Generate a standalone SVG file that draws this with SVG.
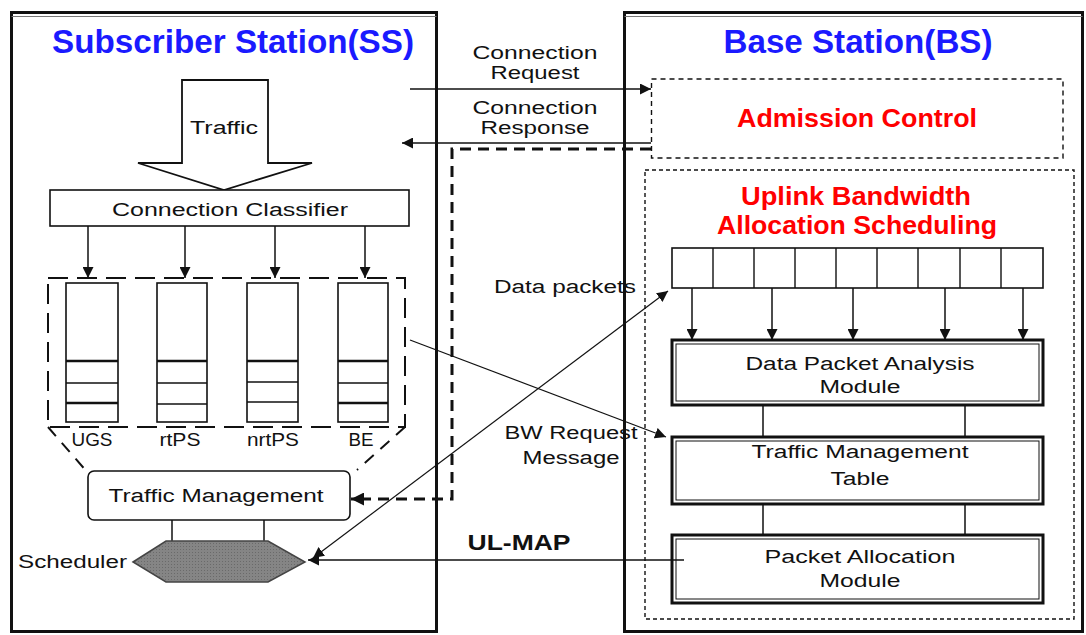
<svg xmlns="http://www.w3.org/2000/svg" width="1086" height="635" viewBox="0 0 1086 635">
<style>
text{font-family:"Liberation Sans",Arial,sans-serif;fill:#111;}
.t{font-size:18px;}
.title{font-size:33px;font-weight:bold;fill:#1a1aff;}
.red{font-size:26px;font-weight:bold;fill:#ff0000;}
.frame{fill:none;stroke:#111;stroke-width:3;}
.thin{fill:none;stroke:#111;stroke-width:1.5;}
.box{fill:#fff;stroke:#111;stroke-width:1.6;}
.mod{fill:#fff;stroke:#111;stroke-width:3;}
.modin{fill:none;stroke:#111;stroke-width:1;}
.ln{fill:none;stroke:#111;stroke-width:1.5;}
.qthick{stroke:#111;stroke-width:2.6;}
.qthin{stroke:#111;stroke-width:1.4;}
</style>
<defs>
<marker id="ah" viewBox="0 0 10 10" refX="10" refY="5" markerWidth="11" markerHeight="11" markerUnits="userSpaceOnUse" orient="auto-start-reverse"><path d="M0,0 L10,5 L0,10 z" fill="#111"/></marker>
<marker id="ahb" viewBox="0 0 10 10" refX="10" refY="5" markerWidth="14" markerHeight="13" markerUnits="userSpaceOnUse" orient="auto"><path d="M0,0 L10,5 L0,10 z" fill="#111"/></marker>
<pattern id="stip" width="3" height="3" patternUnits="userSpaceOnUse"><rect width="3" height="3" fill="#858585"/><rect width="1" height="1" fill="#6a6a6a"/></pattern>
</defs>

<g id="ss-frame">
<rect class="frame" x="11.5" y="12.5" width="425" height="619"/>
<line x1="11.5" y1="16.5" x2="436.5" y2="16.5" stroke="#777" stroke-width="1"/>
<text class="title" x="233" y="53" text-anchor="middle" textLength="362" lengthAdjust="spacingAndGlyphs">Subscriber Station(SS)</text>
</g>

<g id="bs-frame">
<rect class="frame" x="624.5" y="12.5" width="458" height="619"/>
<line x1="624.5" y1="16.5" x2="1082.5" y2="16.5" stroke="#777" stroke-width="1"/>
<text class="title" x="858" y="53" text-anchor="middle" textLength="269" lengthAdjust="spacingAndGlyphs">Base Station(BS)</text>
</g>

<g id="traffic">
<polygon points="182,80 268,80 268,163 312,163 224,190 138,163 182,163" fill="#fff" stroke="#111" stroke-width="1.8"/>
<text class="t" x="224" y="134" text-anchor="middle" textLength="68" lengthAdjust="spacingAndGlyphs">Traffic</text>
</g>

<g id="connection-classifier">
<rect class="box" x="50" y="190" width="359" height="36"/>
<text class="t" x="230" y="216" text-anchor="middle" textLength="236" lengthAdjust="spacingAndGlyphs">Connection Classifier</text>
</g>

<g id="queues">
<rect x="48" y="278" width="357" height="149" fill="none" stroke="#111" stroke-width="2" stroke-dasharray="20,9"/>
<path d="M48,427 L88,473 M405,427 L357,470" fill="none" stroke="#111" stroke-width="2" stroke-dasharray="12,9"/>
<g id="q-ugs">
<rect class="box" x="66" y="283" width="52" height="139"/>
<line class="qthick" x1="66" y1="361" x2="118" y2="361"/>
<line class="qthin" x1="66" y1="383" x2="118" y2="383"/>
<line class="qthick" x1="66" y1="403" x2="118" y2="403"/>
<text class="t" x="92" y="446" text-anchor="middle" textLength="41" lengthAdjust="spacingAndGlyphs">UGS</text>
</g>
<g id="q-rtps">
<rect class="box" x="157" y="283" width="50" height="139"/>
<line class="qthick" x1="157" y1="361" x2="207" y2="361"/>
<line class="qthin" x1="157" y1="383" x2="207" y2="383"/>
<line class="qthin" x1="157" y1="404" x2="207" y2="404"/>
<text class="t" x="180" y="446" text-anchor="middle" textLength="41" lengthAdjust="spacingAndGlyphs">rtPS</text>
</g>
<g id="q-nrtps">
<rect class="box" x="247" y="283" width="51" height="139"/>
<line class="qthick" x1="247" y1="361" x2="298" y2="361"/>
<line class="qthin" x1="247" y1="382" x2="298" y2="382"/>
<line class="qthin" x1="247" y1="402" x2="298" y2="402"/>
<text class="t" x="273" y="446" text-anchor="middle" textLength="52" lengthAdjust="spacingAndGlyphs">nrtPS</text>
</g>
<g id="q-be">
<rect class="box" x="338" y="283" width="50" height="139"/>
<line class="qthick" x1="338" y1="361" x2="388" y2="361"/>
<line class="qthin" x1="338" y1="383" x2="388" y2="383"/>
<line class="qthick" x1="338" y1="403" x2="388" y2="403"/>
<text class="t" x="361" y="446" text-anchor="middle" textLength="25" lengthAdjust="spacingAndGlyphs">BE</text>
</g>
</g>

<g id="traffic-management-ss">
<rect class="box" x="88" y="471" width="262" height="49" rx="6"/>
<text class="t" x="216" y="502" text-anchor="middle" textLength="215" lengthAdjust="spacingAndGlyphs">Traffic Management</text>
</g>

<g id="scheduler">
<line class="ln" x1="172" y1="520" x2="172" y2="541"/>
<line class="ln" x1="264" y1="520" x2="264" y2="541"/>
<polygon points="133,562 166,541 268,541 305,562 268,582 166,582" fill="url(#stip)" stroke="#444" stroke-width="1.5"/>
<text class="t" x="127" y="568" text-anchor="end" textLength="109" lengthAdjust="spacingAndGlyphs">Scheduler</text>
</g>

<g id="admission-control">
<rect x="651.5" y="79" width="411.5" height="79" fill="none" stroke="#111" stroke-width="1.4" stroke-dasharray="5,4"/>
<text class="red" x="857" y="127" text-anchor="middle" textLength="240" lengthAdjust="spacingAndGlyphs">Admission Control</text>
</g>

<g id="uplink-scheduling">
<rect x="645" y="170" width="429" height="449" fill="none" stroke="#111" stroke-width="1.4" stroke-dasharray="4,3"/>
<text class="red" x="856" y="205" text-anchor="middle" textLength="230" lengthAdjust="spacingAndGlyphs">Uplink Bandwidth</text>
<text class="red" x="857" y="234" text-anchor="middle" textLength="280" lengthAdjust="spacingAndGlyphs">Allocation Scheduling</text>
</g>

<g id="data-packet-queue">
<rect class="box" x="672" y="248" width="371" height="40"/>
<path d="M713,248V288M754,248V288M795,248V288M836,248V288M877,248V288M918,248V288M960,248V288M1001,248V288" stroke="#111" stroke-width="1.4"/>
</g>

<g id="data-packet-analysis">
<rect class="mod" x="672" y="340" width="371" height="65"/>
<rect class="modin" x="676" y="344" width="363" height="57"/>
<text class="t" x="860" y="370" text-anchor="middle" textLength="229" lengthAdjust="spacingAndGlyphs">Data Packet Analysis</text>
<text class="t" x="860" y="393" text-anchor="middle" textLength="81" lengthAdjust="spacingAndGlyphs">Module</text>
</g>

<g id="traffic-management-table">
<rect class="mod" x="672" y="437" width="371" height="67"/>
<rect class="modin" x="676" y="441" width="363" height="59"/>
<text class="t" x="860" y="458" text-anchor="middle" textLength="217" lengthAdjust="spacingAndGlyphs">Traffic Management</text>
<text class="t" x="860" y="485" text-anchor="middle" textLength="59" lengthAdjust="spacingAndGlyphs">Table</text>
</g>

<g id="packet-allocation">
<rect class="mod" x="672" y="535" width="371" height="68"/>
<rect class="modin" x="676" y="539" width="363" height="60"/>
<text class="t" x="860" y="563" text-anchor="middle" textLength="191" lengthAdjust="spacingAndGlyphs">Packet Allocation</text>
<text class="t" x="860" y="587" text-anchor="middle" textLength="81" lengthAdjust="spacingAndGlyphs">Module</text>
</g>

<g id="connectors">
<!-- classifier to queues -->
<line class="ln" x1="88" y1="226" x2="88" y2="278" marker-end="url(#ah)"/>
<line class="ln" x1="185" y1="226" x2="185" y2="278" marker-end="url(#ah)"/>
<line class="ln" x1="275" y1="226" x2="275" y2="278" marker-end="url(#ah)"/>
<line class="ln" x1="365" y1="226" x2="365" y2="278" marker-end="url(#ah)"/>
<!-- data packets to analysis -->
<line class="ln" x1="692" y1="288" x2="692" y2="340" marker-end="url(#ah)"/>
<line class="ln" x1="772" y1="288" x2="772" y2="340" marker-end="url(#ah)"/>
<line class="ln" x1="853" y1="288" x2="853" y2="340" marker-end="url(#ah)"/>
<line class="ln" x1="945" y1="288" x2="945" y2="340" marker-end="url(#ah)"/>
<line class="ln" x1="1023" y1="288" x2="1023" y2="340" marker-end="url(#ah)"/>
<!-- module links -->
<path class="ln" d="M763,405V437M965,405V437M763,504V535M965,504V535"/>
<!-- connection request / response -->
<line class="ln" x1="410" y1="89" x2="651" y2="89" marker-end="url(#ah)"/>
<text class="t" x="535" y="59" text-anchor="middle" textLength="125" lengthAdjust="spacingAndGlyphs">Connection</text>
<text class="t" x="535" y="79" text-anchor="middle" textLength="89" lengthAdjust="spacingAndGlyphs">Request</text>
<line class="ln" x1="651" y1="143" x2="402" y2="143" marker-end="url(#ah)"/>
<text class="t" x="535" y="114" text-anchor="middle" textLength="125" lengthAdjust="spacingAndGlyphs">Connection</text>
<text class="t" x="535" y="134" text-anchor="middle" textLength="109" lengthAdjust="spacingAndGlyphs">Response</text>
<!-- admission control to traffic management (dashed) -->
<path d="M651,149 H452 V499 H362" fill="none" stroke="#111" stroke-width="3" stroke-dasharray="11,7"/>
<line x1="362" y1="499" x2="351" y2="499" stroke="#111" stroke-width="3" marker-end="url(#ahb)"/>
<!-- BW request -->
<line x1="410" y1="340" x2="666" y2="437" stroke="#111" stroke-width="1.2" marker-end="url(#ah)"/>
<text class="t" x="571" y="439" text-anchor="middle" textLength="133" lengthAdjust="spacingAndGlyphs">BW Request</text>
<text class="t" x="571" y="464" text-anchor="middle" textLength="97" lengthAdjust="spacingAndGlyphs">Message</text>
<!-- data packets -->
<line x1="313" y1="558" x2="668" y2="291" stroke="#111" stroke-width="1.2" marker-start="url(#ah)" marker-end="url(#ah)"/>
<text class="t" x="565" y="293" text-anchor="middle" textLength="142" lengthAdjust="spacingAndGlyphs">Data packets</text>
<!-- UL-MAP -->
<line class="ln" x1="684" y1="560" x2="308" y2="560" marker-end="url(#ah)"/>
<text x="519" y="550" text-anchor="middle" font-size="22" font-weight="bold" textLength="103" lengthAdjust="spacingAndGlyphs">UL-MAP</text>
</g>
</svg>
